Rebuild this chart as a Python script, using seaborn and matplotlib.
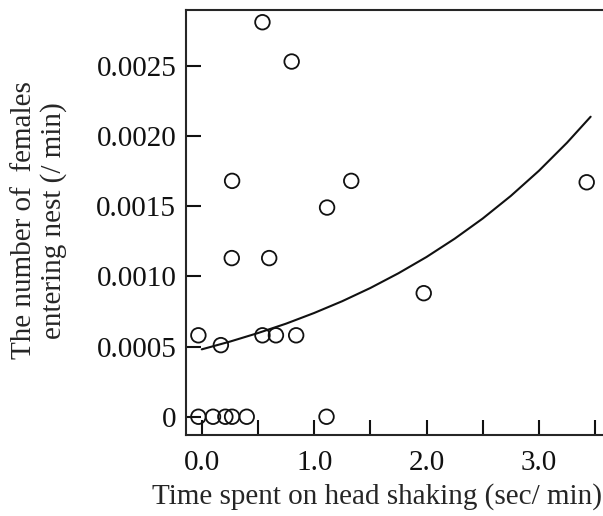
import matplotlib
matplotlib.use("Agg")
import matplotlib.pyplot as plt
import seaborn as sns
import pandas as pd

# observed points (head shaking time vs females entering nest)
shake_time = [0.54, 0.80, 0.27, 1.33, 1.115, 0.267, 0.60,
              -0.03, 0.17, 0.54, 0.66, 0.84,
              -0.03, 0.10, 0.21, 0.27, 0.40, 1.11,
              1.975, 3.425]
females_rate = [0.00281, 0.00253, 0.00168, 0.00168, 0.00149, 0.00113, 0.00113,
                0.00058, 0.00051, 0.00058, 0.00058, 0.00058,
                0.0, 0.0, 0.0, 0.0, 0.0, 0.0,
                0.00088, 0.00167]

# fitted curve
curve_x = [0.0, 0.25, 0.5, 0.75, 1.0, 1.25, 1.5, 1.75, 2.0,
           2.25, 2.5, 2.75, 3.0, 3.25, 3.46]
curve_y = [0.000480, 0.000535, 0.000596, 0.000663, 0.000739, 0.000823,
           0.000917, 0.001022, 0.001138, 0.001268, 0.001412, 0.001573,
           0.001752, 0.001952, 0.002137]

x_ticks = [0.0, 0.5, 1.0, 1.5, 2.0, 2.5, 3.0, 3.5]
x_tick_labels = ["0.0", "", "1.0", "", "2.0", "", "3.0", ""]
y_ticks = [0.0, 0.0005, 0.0010, 0.0015, 0.0020, 0.0025]
y_tick_labels = ["0", "0.0005", "0.0010", "0.0015", "0.0020", "0.0025"]

pts = pd.DataFrame({"x": shake_time, "y": females_rate})
fit = pd.DataFrame({"x": curve_x, "y": curve_y})

sns.set_style("ticks")
plt.rcParams['font.family'] = ['Liberation Serif', 'DejaVu Serif']
plt.rcParams['axes.linewidth'] = 1.5

fig = plt.figure(figsize=(6.03, 5.16), dpi=100)
ax = fig.add_axes([0.3085, 0.157, 0.6915, 0.8236])

sns.lineplot(data=fit, x="x", y="y", ax=ax, color="#111111", linewidth=1.5)
sns.scatterplot(data=pts, x="x", y="y", ax=ax, marker="o", s=110,
                facecolors="none", edgecolor="#111111", linewidth=1.3)

ax.set_xlim(-0.14, 3.57)
ax.set_ylim(-0.00013, 0.002897)
ax.set_xticks(x_ticks)
ax.set_xticklabels(x_tick_labels)
ax.set_yticks(y_ticks)
ax.set_yticklabels(y_tick_labels)
ax.tick_params(direction="in", length=11, width=1.5, labelsize=21,
               colors="#111111")
ax.tick_params(axis="x", pad=11)
ax.tick_params(axis="y", pad=7)
ax.spines['right'].set_visible(False)

ax.set_xlabel("Time spent on head shaking (sec/ min)", fontsize=21)
ax.xaxis.set_label_coords(0.459, -0.112)
ax.set_ylabel("The number of  females\nentering nest (/ min)", fontsize=21,
              linespacing=1.15)
ax.yaxis.set_label_coords(-0.285, 0.505)

fig.savefig("out.png", dpi=100)
